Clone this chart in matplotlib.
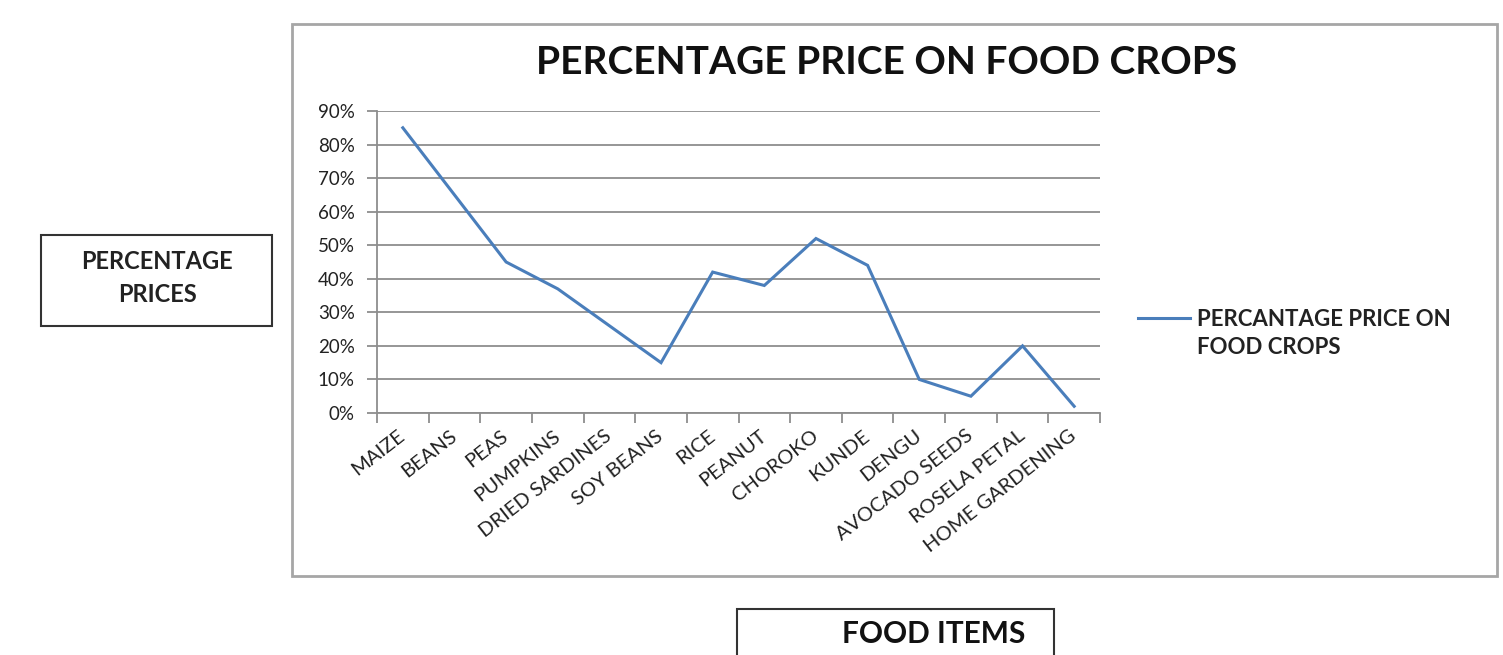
import numpy as np
import matplotlib
matplotlib.use("Agg")
import matplotlib.pyplot as plt
from matplotlib.lines import Line2D
from matplotlib.patches import Rectangle
from matplotlib.ticker import PercentFormatter

# Food items and their percentage price
food_items = ['MAIZE', 'BEANS', 'PEAS', 'PUMPKINS', 'DRIED SARDINES', 'SOY BEANS', 'RICE',
              'PEANUT', 'CHOROKO', 'KUNDE', 'DENGU', 'AVOCADO SEEDS', 'ROSELA PETAL',
              'HOME GARDENING']
price_pct = [85, 65, 45, 37, 26, 15, 42, 38, 52, 44, 10, 5, 20, 2]
y_ticks = [0, 10, 20, 30, 40, 50, 60, 70, 80, 90]

plt.rcParams['font.family'] = ['Lato', 'DejaVu Sans']

W, H = 1503, 655
fig = plt.figure(figsize=(W / 100, H / 100), dpi=100)


def fx(px):
    return px / W


def fy(py):
    return 1 - py / H


line_color = '#4A7EBB'
grid_color = '#8e8e8e'
text_color = '#222222'

# Plot area
ax = fig.add_axes([fx(377), fy(413), fx(1100) - fx(377), fy(111) - fy(413)])

x = np.arange(len(food_items))
ax.plot(x, price_pct, color=line_color, lw=2.2, solid_joinstyle='miter')

ax.set_xlim(-0.5, len(food_items) - 0.5)
ax.set_ylim(0, 90)
ax.set_yticks(y_ticks)
ax.yaxis.set_major_formatter(PercentFormatter(decimals=0))
ax.set_xticks(x)
ax.set_xticklabels(food_items, rotation=38, ha='right', va='center', rotation_mode='anchor')
ax.set_xticks(np.arange(-0.5, len(food_items)), minor=True)

ax.tick_params(axis='x', which='major', length=0, pad=15, labelsize=14.5, labelcolor=text_color)
ax.tick_params(axis='x', which='minor', length=7, width=1.3, color=grid_color)
ax.tick_params(axis='y', length=7, width=1.3, color=grid_color, labelsize=13.5,
               labelcolor=text_color, pad=9)

ax.grid(axis='y', color=grid_color, lw=1.3)
ax.set_axisbelow(True)
for side in ['top', 'right']:
    ax.spines[side].set_visible(False)
for side in ['left', 'bottom']:
    ax.spines[side].set_color(grid_color)
    ax.spines[side].set_linewidth(1.3)

# Legend on the right
fig.add_artist(Line2D([fx(1138), fx(1190)], [fy(318), fy(318)], color=line_color, lw=2.2,
                      transform=fig.transFigure))
fig.text(fx(1197), fy(320), 'PERCANTAGE PRICE ON', ha='left', va='center', fontsize=16,
         fontweight='bold', color=text_color)
fig.text(fx(1197), fy(348), 'FOOD CROPS', ha='left', va='center', fontsize=16,
         fontweight='bold', color=text_color)

# Chart title
fig.text(fx(887), fy(63), 'PERCENTAGE PRICE ON FOOD CROPS', ha='center', va='center',
         fontsize=28, fontweight='bold', color='#111111')

# Outer chart border
fig.patches.append(Rectangle((fx(292), fy(576)), fx(1497) - fx(292), fy(24) - fy(576),
                             transform=fig.transFigure, fill=False, ec='#a6a6a6', lw=2))

# Y axis caption box
fig.patches.append(Rectangle((fx(41), fy(326)), fx(272) - fx(41), fy(235) - fy(326),
                             transform=fig.transFigure, fill=False, ec='#333333', lw=1.5))
fig.text(fx(157), fy(261), 'PERCENTAGE', ha='center', va='center', fontsize=17,
         fontweight='bold', color=text_color)
fig.text(fx(157), fy(295), 'PRICES', ha='center', va='center', fontsize=17,
         fontweight='bold', color=text_color)

# X axis caption box
fig.patches.append(Rectangle((fx(737), fy(680)), fx(1054) - fx(737), fy(609) - fy(680),
                             transform=fig.transFigure, fill=False, ec='#333333', lw=1.5,
                             clip_on=False))
fig.text(fx(934), fy(634), 'FOOD ITEMS', ha='center', va='center', fontsize=21.5,
         fontweight='bold', color='#111111')

fig.savefig('out.png', dpi=100, facecolor='white')
